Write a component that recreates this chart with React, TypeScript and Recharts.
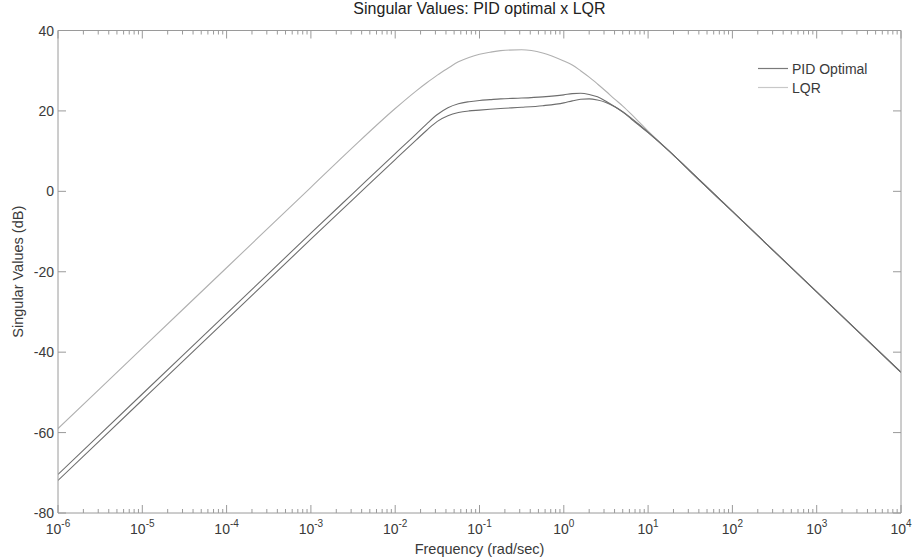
import React from 'react';
import { LineChart, Line, XAxis, YAxis, Legend, Label } from 'recharts';

// Frequency points (rad/sec)
const frequencies = [
  1e-6, 1e-5, 1e-4, 1e-3, 3.16e-3, 1e-2, 1.78e-2, 2.37e-2, 3.16e-2, 4.22e-2, 5.62e-2, 7.5e-2, 0.1, 0.133, 0.178, 0.316, 0.562,
  1, 1.26, 1.58, 2.0, 2.51, 3.16, 3.98, 5.01, 6.31, 7.94, 10, 17.8, 31.6, 100, 1000, 10000,
];

// Singular values (dB)
const lqrTop = [
  -59, -39, -19, 1, 11, 20.6, 25.0, 27.0, 28.9, 30.6, 32.2, 33.3, 34.1, 34.6, 35.0, 35.2, 34.4,
  32.4, 31.4, 30.0, 28.4, 26.7, 24.9, 23.0, 21.2, 19.2, 17.1, 15.0, 10, 5, -5, -25, -45,
];
const pidUpper = [
  -70.4, -50.4, -30.4, -10.4, -0.5, 9.4, 14.3, 16.8, 19.1, 20.8, 21.8, 22.3, 22.6, 22.8, 23.0, 23.2, 23.5,
  24.0, 24.3, 24.4, 24.1, 23.5, 22.4, 21.1, 19.7, 18.0, 16.3, 14.6, 10, 5, -5, -25, -45,
];
const pidLower = [
  -71.9, -51.9, -31.9, -11.9, -2.0, 7.9, 12.8, 15.2, 17.4, 18.8, 19.6, 20.0, 20.2, 20.4, 20.6, 20.9, 21.3,
  22.0, 22.5, 22.9, 23.0, 22.7, 22.1, 21.1, 19.8, 18.2, 16.5, 14.7, 10, 5, -5, -25, -45,
];

const majorXTicks = [1e-6, 1e-5, 1e-4, 1e-3, 1e-2, 1e-1, 1e0, 1e1, 1e2, 1e3, 1e4];
const majorXExponents = ['-6', '-5', '-4', '-3', '-2', '-1', '0', '1', '2', '3', '4'];
const minorMultipliers = [2, 3, 4, 5, 6, 7, 8, 9];
const yTicks = [-80, -60, -40, -20, 0, 20, 40];

const legendItems = [
  { label: 'PID Optimal', color: '#7a7a7a' },
  { label: 'LQR', color: '#c8c8c8' },
];

const allXTicks: number[] = [];
majorXTicks.forEach((m, i) => {
  allXTicks.push(m);
  if (i < majorXTicks.length - 1) minorMultipliers.forEach((k) => allXTicks.push(m * k));
});

const data = frequencies.map((f, i) => ({
  f,
  lqr: lqrTop[i],
  pid1: pidUpper[i],
  pid2: pidLower[i],
}));

const FONT = '"Liberation Sans", Arial, Helvetica, sans-serif';
const AXIS = '#9a9a9a';
const TEXT = '#3a3a3a';

const majorIndex = (v: number) => majorXTicks.findIndex((m) => Math.abs(m - v) / m < 1e-6);

const BottomTick = (props: any) => {
  const { x, y, payload } = props;
  const idx = majorIndex(payload.value);
  const major = idx >= 0;
  return (
    <g>
      <line x1={x} x2={x} y1={y} y2={y - (major ? 8 : 4)} stroke={AXIS} strokeWidth={1} />
      {major && (
        <text x={x} y={y + 21} textAnchor="middle" fontFamily={FONT} fontSize={14} fill={TEXT}>
          <tspan>10</tspan>
          <tspan dy={-7} fontSize={10}>{majorXExponents[idx]}</tspan>
        </text>
      )}
    </g>
  );
};

const TopTick = (props: any) => {
  const { x, y, payload } = props;
  const major = majorIndex(payload.value) >= 0;
  return <line x1={x} x2={x} y1={y} y2={y + (major ? 8 : 4)} stroke={AXIS} strokeWidth={1} />;
};

const LeftTick = (props: any) => {
  const { x, y, payload } = props;
  return (
    <g>
      <line x1={x} x2={x + 8} y1={y} y2={y} stroke={AXIS} strokeWidth={1} />
      <text x={x - 4} y={y + 5} textAnchor="end" fontFamily={FONT} fontSize={14} fill={TEXT}>
        {payload.value}
      </text>
    </g>
  );
};

const RightTick = (props: any) => {
  const { x, y } = props;
  return <line x1={x} x2={x - 8} y1={y} y2={y} stroke={AXIS} strokeWidth={1} />;
};

const renderLegend = () => (
  <div style={{ fontFamily: FONT, fontSize: 14, color: TEXT }}>
    {legendItems.map((it) => (
      <div key={it.label} style={{ display: 'flex', alignItems: 'center', height: 19 }}>
        <svg width={30} height={3}>
          <line x1={0} x2={30} y1={1.5} y2={1.5} stroke={it.color} strokeWidth={1.2} />
        </svg>
        <span style={{ marginLeft: 4 }}>{it.label}</span>
      </div>
    ))}
  </div>
);

export default function App() {
  return (
    <div style={{ width: 913, height: 560 }}>
      <style>{'body{margin:0}'}</style>
      <LineChart
        width={913}
        height={560}
        data={data}
        margin={{ top: 29.5, right: 11, bottom: 17, left: 10 }}
        style={{ fontFamily: FONT }}
      >
        <XAxis
          xAxisId="bottom"
          dataKey="f"
          type="number"
          scale="log"
          domain={[1e-6, 1e4]}
          ticks={allXTicks}
          interval={0}
          allowDataOverflow
          height={30}
          tickSize={0}
          tickMargin={0}
          tickLine={false}
          axisLine={{ stroke: AXIS }}
          tick={<BottomTick />}
        >
          <Label value="Frequency (rad/sec)" position="insideBottom" offset={-11} fontFamily={FONT} fontSize={14.5} fill={TEXT} />
        </XAxis>
        <XAxis
          xAxisId="top"
          orientation="top"
          dataKey="f"
          type="number"
          scale="log"
          domain={[1e-6, 1e4]}
          ticks={allXTicks}
          interval={0}
          allowDataOverflow
          height={1}
          tickSize={0}
          tickMargin={0}
          tickLine={false}
          axisLine={{ stroke: AXIS }}
          tick={<TopTick />}
        >
          <Label value="Singular Values: PID optimal x LQR" position="top" offset={15.5} fontFamily={FONT} fontSize={16} fill="#222" />
        </XAxis>
        <YAxis
          yAxisId="left"
          type="number"
          domain={[-80, 40]}
          ticks={yTicks}
          interval={0}
          allowDataOverflow
          width={48}
          tickSize={0}
          tickMargin={0}
          tickLine={false}
          axisLine={{ stroke: AXIS }}
          tick={<LeftTick />}
        >
          <Label value="Singular Values (dB)" angle={-90} position="insideLeft" offset={8} style={{ textAnchor: 'middle' }} fontFamily={FONT} fontSize={14.5} fill={TEXT} />
        </YAxis>
        <YAxis
          yAxisId="right"
          orientation="right"
          type="number"
          domain={[-80, 40]}
          ticks={yTicks}
          interval={0}
          allowDataOverflow
          width={1}
          tickSize={0}
          tickMargin={0}
          tickLine={false}
          axisLine={{ stroke: AXIS }}
          tick={<RightTick />}
        />
        <Legend
          layout="vertical"
          align="center"
          verticalAlign="middle"
          content={renderLegend}
          wrapperStyle={{ left: 758, top: 59, width: 'auto', position: 'absolute' }}
        />
        <Line xAxisId="bottom" yAxisId="left" dataKey="lqr" type="monotone" stroke="#b0b0b0" strokeWidth={1.1} dot={false} isAnimationActive={false} />
        <Line xAxisId="bottom" yAxisId="left" dataKey="pid1" type="monotone" stroke="#6e6e6e" strokeWidth={1.1} dot={false} isAnimationActive={false} />
        <Line xAxisId="bottom" yAxisId="left" dataKey="pid2" type="monotone" stroke="#6e6e6e" strokeWidth={1.1} dot={false} isAnimationActive={false} />
      </LineChart>
    </div>
  );
}
